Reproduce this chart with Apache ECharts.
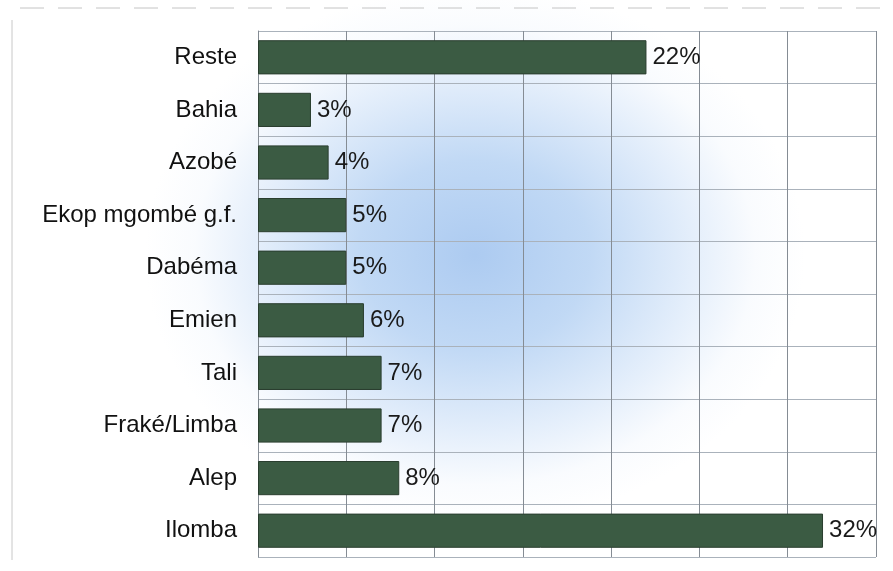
<!DOCTYPE html>
<html>
<head>
<meta charset="utf-8">
<script src="https://cdn.jsdelivr.net/npm/echarts@6/dist/echarts.min.js"></script>
<style>
  html, body { margin: 0; padding: 0; background: #ffffff; }
  #chart {
    width: 893px; height: 571px;
    background:
      radial-gradient(ellipse 330px 270px at 475px 255px,
        rgba(168, 200, 240, 0.95) 0%,
        rgba(182, 210, 243, 0.85) 35%,
        rgba(208, 226, 248, 0.6) 65%,
        rgba(236, 243, 252, 0.3) 85%,
        rgba(255, 255, 255, 0) 100%),
      #ffffff;
  }
</style>
</head>
<body>
<div id="chart"></div>
<script>
// Wood species share (%), listed top to bottom
const species = ['Reste', 'Bahia', 'Azobé', 'Ekop mgombé g.f.', 'Dabéma', 'Emien', 'Tali', 'Fraké/Limba', 'Alep', 'Ilomba'];
const shares = [22, 3, 4, 5, 5, 6, 7, 7, 8, 32];
const axisMax = 35;
const axisStep = 5;

const chart = echarts.init(document.getElementById('chart'), null, { renderer: 'canvas' });

chart.setOption({
  backgroundColor: 'transparent',
  animation: false,
  grid: { left: 258, right: 17, top: 31, bottom: 14, containLabel: false },
  xAxis: {
    type: 'value',
    min: 0,
    max: axisMax,
    interval: axisStep,
    axisLabel: { show: false },
    axisTick: { show: false },
    axisLine: { show: false },
    splitLine: { show: true, lineStyle: { color: '#858c94', width: 1 } }
  },
  yAxis: {
    type: 'category',
    data: species,
    inverse: true,
    axisTick: { show: false },
    axisLine: { show: true, lineStyle: { color: '#858c94', width: 1 } },
    splitLine: { show: true, lineStyle: { color: '#aab2bb', width: 1 } },
    axisLabel: {
      color: '#111111',
      fontFamily: 'Liberation Sans, Arial, sans-serif',
      fontSize: 24,
      margin: 21
    }
  },
  graphic: [
    { type: 'line', shape: { x1: 20, y1: 8, x2: 885, y2: 8 },
      style: { stroke: '#c4c4c4', lineWidth: 1, lineDash: [24, 14] }, silent: true },
    { type: 'line', shape: { x1: 12, y1: 20, x2: 12, y2: 560 },
      style: { stroke: '#c8c8c8', lineWidth: 1 }, silent: true }
  ],
  series: [{
    type: 'bar',
    data: shares,
    barCategoryGap: '35%',
    itemStyle: { color: '#3b5b43', borderColor: '#2a3e2f', borderWidth: 1 },
    label: {
      show: true,
      position: 'right',
      distance: 6,
      formatter: '{c}%',
      color: '#1a1a1a',
      fontFamily: 'Liberation Sans, Arial, sans-serif',
      fontSize: 24
    }
  }]
});
</script>
</body>
</html>
